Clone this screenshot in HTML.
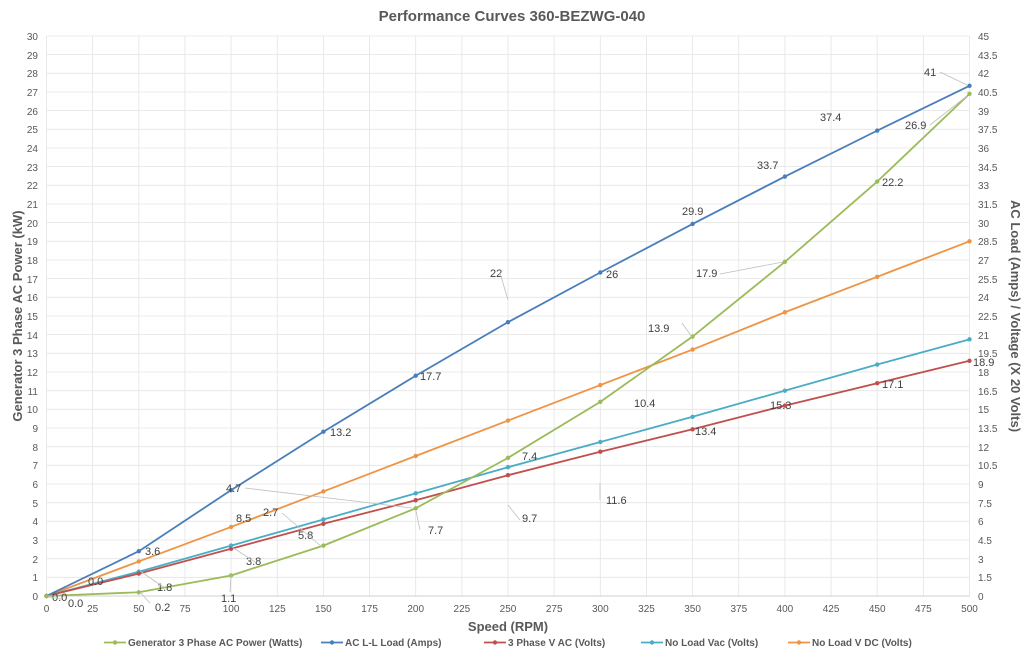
<!DOCTYPE html>
<html><head><meta charset="utf-8"><style>
body{margin:0;background:#fff}
svg{display:block;font-family:"Liberation Sans",sans-serif}
.t{font-size:10px;fill:#595959}
.d{font-size:11px;fill:#404040}
</style></head><body>
<svg id="s" width="1024" height="664" viewBox="0 0 1024 664">
<text x="512" y="21" text-anchor="middle" style="font-size:15px;font-weight:bold;fill:#595959">Performance Curves 360-BEZWG-040</text>
<g id="grid"></g>
<g id="ticks" class="t"></g>
<g id="series"></g>
<g class="d" id="lbl">
<text x="52" y="601">0.0</text><text x="68" y="607">0.0</text><text x="88" y="585">0.0</text>
<text x="155" y="611">0.2</text><text x="221" y="602">1.1</text><text x="263" y="516">2.7</text><text x="226" y="492">4.7</text>
<text x="522" y="460">7.4</text><text x="634" y="407">10.4</text><text x="648" y="332">13.9</text><text x="696" y="277">17.9</text>
<text x="882" y="186">22.2</text><text x="905" y="129">26.9</text>
<text x="145" y="555">3.6</text><text x="236" y="522">8.5</text><text x="330" y="436">13.2</text><text x="420" y="380">17.7</text>
<text x="490" y="277">22</text><text x="606" y="278">26</text><text x="682" y="215">29.9</text><text x="757" y="169">33.7</text>
<text x="820" y="121">37.4</text><text x="924" y="76">41</text>
<text x="157" y="591">1.8</text><text x="246" y="565">3.8</text><text x="298" y="539">5.8</text><text x="428" y="534">7.7</text>
<text x="522" y="522">9.7</text><text x="606" y="504">11.6</text><text x="695" y="435">13.4</text><text x="770" y="409">15.3</text>
<text x="882" y="388">17.1</text><text x="973" y="366">18.9</text>
</g>
<g stroke="#bfbfbf" stroke-width="0.8" fill="none">
<path d="M62,599 L48,597"/><path d="M150,603 L140,592"/><path d="M230,592 L231,575"/><path d="M282,513 L322,547"/>
<path d="M245,488 L412,508"/><path d="M682,323 L692,337"/><path d="M720,274 L783,262"/><path d="M930,125 L967,96"/>
<path d="M500,273 L508,300"/><path d="M940,72 L967,85"/><path d="M520,520 L508,505"/><path d="M600,500 L600,483"/>
<path d="M165,588 L140,571"/><path d="M255,562 L232,547"/><path d="M420,530 L416,511"/>
</g>
<text transform="translate(22,316) rotate(-90)" text-anchor="middle" style="font-size:13px;font-weight:bold;fill:#595959">Generator 3 Phase AC Power (kW)</text>
<text transform="translate(1011,316) rotate(90)" text-anchor="middle" style="font-size:13px;font-weight:bold;fill:#595959">AC Load (Amps) / Voltage (X 20 Volts)</text>
<text x="508" y="631" text-anchor="middle" style="font-size:13px;font-weight:bold;fill:#595959">Speed (RPM)</text>
<g id="leg" style="font-size:10px;font-weight:bold;fill:#595959">
<text x="128" y="646">Generator 3 Phase AC Power (Watts)</text>
<text x="345" y="646">AC L-L Load (Amps)</text>
<text x="508" y="646">3 Phase V AC  (Volts)</text>
<text x="665" y="646">No Load Vac (Volts)</text>
<text x="812" y="646">No Load V DC (Volts)</text>
</g>
<g class="t" id="yl">
<text x="38" y="600" text-anchor="end">0</text><text x="38" y="581" text-anchor="end">1</text><text x="38" y="563" text-anchor="end">2</text>
<text x="38" y="544" text-anchor="end">3</text><text x="38" y="525" text-anchor="end">4</text><text x="38" y="507" text-anchor="end">5</text>
<text x="38" y="488" text-anchor="end">6</text><text x="38" y="469" text-anchor="end">7</text><text x="38" y="451" text-anchor="end">8</text>
<text x="38" y="432" text-anchor="end">9</text><text x="38" y="413" text-anchor="end">10</text><text x="38" y="395" text-anchor="end">11</text>
<text x="38" y="376" text-anchor="end">12</text><text x="38" y="357" text-anchor="end">13</text><text x="38" y="339" text-anchor="end">14</text>
<text x="38" y="320" text-anchor="end">15</text><text x="38" y="301" text-anchor="end">16</text><text x="38" y="283" text-anchor="end">17</text>
<text x="38" y="264" text-anchor="end">18</text><text x="38" y="245" text-anchor="end">19</text><text x="38" y="227" text-anchor="end">20</text>
<text x="38" y="208" text-anchor="end">21</text><text x="38" y="189" text-anchor="end">22</text><text x="38" y="171" text-anchor="end">23</text>
<text x="38" y="152" text-anchor="end">24</text><text x="38" y="133" text-anchor="end">25</text><text x="38" y="115" text-anchor="end">26</text>
<text x="38" y="96" text-anchor="end">27</text><text x="38" y="77" text-anchor="end">28</text><text x="38" y="59" text-anchor="end">29</text>
<text x="38" y="40" text-anchor="end">30</text>
<text x="978" y="600">0</text><text x="978" y="581">1.5</text><text x="978" y="563">3</text><text x="978" y="544">4.5</text>
<text x="978" y="525">6</text><text x="978" y="507">7.5</text><text x="978" y="488">9</text><text x="978" y="469">10.5</text>
<text x="978" y="451">12</text><text x="978" y="432">13.5</text><text x="978" y="413">15</text><text x="978" y="395">16.5</text>
<text x="978" y="376">18</text><text x="978" y="357">19.5</text><text x="978" y="339">21</text><text x="978" y="320">22.5</text>
<text x="978" y="301">24</text><text x="978" y="283">25.5</text><text x="978" y="264">27</text><text x="978" y="245">28.5</text>
<text x="978" y="227">30</text><text x="978" y="208">31.5</text><text x="978" y="189">33</text><text x="978" y="171">34.5</text>
<text x="978" y="152">36</text><text x="978" y="133">37.5</text><text x="978" y="115">39</text><text x="978" y="96">40.5</text>
<text x="978" y="77">42</text><text x="978" y="59">43.5</text><text x="978" y="40">45</text>
</g>
<g class="t" text-anchor="middle">
<text x="46.5" y="612">0</text><text x="92.7" y="612">25</text><text x="138.8" y="612">50</text><text x="185" y="612">75</text>
<text x="231.1" y="612">100</text><text x="277.3" y="612">125</text><text x="323.4" y="612">150</text><text x="369.6" y="612">175</text>
<text x="415.7" y="612">200</text><text x="461.9" y="612">225</text><text x="508" y="612">250</text><text x="554.2" y="612">275</text>
<text x="600.3" y="612">300</text><text x="646.5" y="612">325</text><text x="692.6" y="612">350</text><text x="738.8" y="612">375</text>
<text x="784.9" y="612">400</text><text x="831.1" y="612">425</text><text x="877.2" y="612">450</text><text x="923.4" y="612">475</text>
<text x="969.5" y="612">500</text>
</g>
</svg>
<script>
var NS="http://www.w3.org/2000/svg";
function X(r){return 46.5+r*1.846}function Y(v){return 596-v*18.667}
function el(p,n,a){var e=document.createElementNS(NS,n);for(var k in a)e.setAttribute(k,a[k]);p.appendChild(e);return e}
var g=document.getElementById('grid');
for(var i=0;i<=30;i++)el(g,'line',{x1:46.5,x2:969.5,y1:Y(i),y2:Y(i),stroke:'#e4e4e4','stroke-width':0.8});
for(var r=0;r<=500;r+=25)el(g,'line',{x1:X(r),x2:X(r),y1:36,y2:596,stroke:'#e4e4e4','stroke-width':0.8});
el(g,'line',{x1:46.5,x2:969.5,y1:596,y2:596,stroke:'#d0d0d0','stroke-width':1});
var S=[
['#ed9445',[0,1.85,3.7,5.6,7.5,9.4,11.3,13.2,15.2,17.1,19.0]],
['#4bacc6',[0,1.3,2.7,4.1,5.5,6.9,8.25,9.6,11.0,12.4,13.75]],
['#c0504d',[0,1.2,2.53,3.87,5.13,6.47,7.73,8.93,10.2,11.4,12.6]],
['#4a7ebb',[0,2.4,5.67,8.8,11.8,14.67,17.33,19.93,22.47,24.93,27.33]],
['#9bbb59',[0,0.2,1.1,2.7,4.7,7.4,10.4,13.9,17.9,22.2,26.9]]];
var sg=document.getElementById('series');
S.forEach(function(s){var d='';s[1].forEach(function(v,i){d+=(i?'L':'M')+X(i*50)+','+Y(v)});
el(sg,'path',{d:d,stroke:s[0],'stroke-width':1.8,fill:'none'});
s[1].forEach(function(v,i){el(sg,'circle',{cx:X(i*50),cy:Y(v),r:2.2,fill:s[0]})});});
var lx=[[104,'#9bbb59'],[321,'#4a7ebb'],[484,'#c0504d'],[641,'#4bacc6'],[788,'#ed9445']];
lx.forEach(function(l){el(sg,'line',{x1:l[0],x2:l[0]+22,y1:642.5,y2:642.5,stroke:l[1],'stroke-width':1.8});el(sg,'circle',{cx:l[0]+11,cy:642.5,r:2.2,fill:l[1]})});
</script>
</body></html>
